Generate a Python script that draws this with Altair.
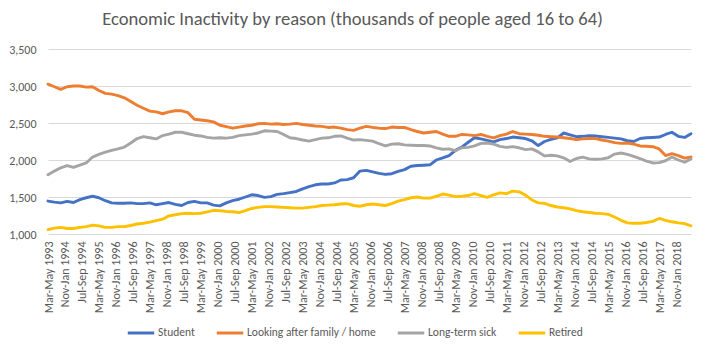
import altair as alt
import pandas as pd

# ---------------- data ----------------
series_names = ["Student", "Looking after family / home", "Long-term sick", "Retired"]
series_colors = ["#4472C4", "#ED7D31", "#A5A5A5", "#FFC000"]

# month index of each sampled rolling quarter (0 = Mar-May 1993, 303 = Jun-Aug 2018), every 3 months
month_index = list(range(0, 304, 3))

student = [1445, 1430, 1420, 1440, 1425, 1465, 1490, 1510, 1490, 1450,
           1420, 1415, 1415, 1420, 1410, 1410, 1420, 1395, 1410, 1425,
           1400, 1385, 1425, 1440, 1420, 1420, 1390, 1380, 1420, 1450,
           1470, 1500, 1530, 1520, 1495, 1505, 1535, 1545, 1560, 1575,
           1610, 1640, 1665, 1675, 1675, 1690, 1730, 1735, 1760, 1850,
           1860, 1840, 1820, 1805, 1815, 1845, 1870, 1915, 1925, 1930,
           1935, 2000, 2030, 2060, 2130, 2175, 2240, 2300, 2285, 2265,
           2245, 2275, 2290, 2310, 2300, 2290, 2260, 2195, 2250, 2280,
           2300, 2365, 2340, 2315, 2320, 2330, 2325, 2315, 2305, 2295,
           2285, 2260, 2250, 2290, 2300, 2305, 2310, 2345, 2375, 2320,
           2305, 2355]

family_home = [3025, 2990, 2955, 2990, 3000, 3000, 2985, 2990, 2940, 2900,
               2890, 2870, 2840, 2790, 2740, 2700, 2660, 2650, 2625, 2650,
               2665, 2665, 2640, 2550, 2540, 2530, 2515, 2470, 2450, 2430,
               2445, 2460, 2470, 2490, 2495, 2485, 2490, 2480, 2485, 2495,
               2480, 2470, 2460, 2455, 2440, 2445, 2430, 2410, 2400, 2430,
               2455, 2440, 2430, 2425, 2445, 2440, 2440, 2410, 2385, 2365,
               2375, 2385, 2350, 2320, 2320, 2345, 2340, 2330, 2345, 2320,
               2300, 2330, 2350, 2385, 2355, 2350, 2345, 2335, 2320, 2315,
               2310, 2300, 2290, 2275, 2285, 2290, 2290, 2270, 2255, 2235,
               2225, 2230, 2215, 2190, 2185, 2180, 2150, 2060, 2085, 2060,
               2025, 2040]

long_term_sick = [1800, 1850, 1895, 1925, 1900, 1930, 1960, 2040, 2075, 2105,
                  2130, 2150, 2175, 2230, 2290, 2315, 2300, 2285, 2330, 2350,
                  2375, 2375, 2355, 2335, 2325, 2305, 2295, 2300, 2295, 2305,
                  2330, 2340, 2350, 2365, 2395, 2390, 2385, 2345, 2300, 2290,
                  2270, 2255, 2275, 2295, 2300, 2320, 2325, 2295, 2270, 2275,
                  2265, 2255, 2220, 2190, 2215, 2220, 2205, 2200, 2195, 2195,
                  2190, 2165, 2145, 2150, 2125, 2165, 2170, 2190, 2225, 2230,
                  2215, 2185, 2170, 2180, 2165, 2140, 2150, 2110, 2055, 2065,
                  2055, 2030, 1980, 2020, 2040, 2015, 2010, 2015, 2030, 2080,
                  2095, 2075, 2050, 2020, 1985, 1960, 1965, 1990, 2040, 2000,
                  1970, 2015]

retired = [1060, 1080, 1090, 1075, 1075, 1090, 1100, 1120, 1110, 1090,
           1090, 1100, 1100, 1115, 1135, 1145, 1160, 1180, 1200, 1245,
           1260, 1275, 1280, 1275, 1280, 1300, 1320, 1315, 1305, 1300,
           1290, 1315, 1345, 1360, 1370, 1370, 1365, 1360, 1355, 1350,
           1350, 1360, 1370, 1385, 1390, 1395, 1405, 1410, 1385, 1375,
           1395, 1405, 1395, 1385, 1410, 1445, 1465, 1490, 1500, 1485,
           1485, 1510, 1540, 1525, 1505, 1510, 1520, 1545, 1520, 1495,
           1530, 1555, 1545, 1580, 1570, 1525, 1460, 1420, 1415, 1385,
           1365, 1355, 1340, 1315, 1300, 1290, 1280, 1275, 1265, 1230,
           1185, 1150, 1145, 1145, 1155, 1170, 1210, 1185, 1165, 1150,
           1140, 1110]

tick_labels = [
    "Mar-May 1993", "Nov-Jan 1994", "Jul-Sep 1994", "Mar-May 1995", "Nov-Jan 1996",
    "Jul-Sep 1996", "Mar-May 1997", "Nov-Jan 1998", "Jul-Sep 1998", "Mar-May 1999",
    "Nov-Jan 2000", "Jul-Sep 2000", "Mar-May 2001", "Nov-Jan 2002", "Jul-Sep 2002",
    "Mar-May 2003", "Nov-Jan 2004", "Jul-Sep 2004", "Mar-May 2005", "Nov-Jan 2006",
    "Jul-Sep 2006", "Mar-May 2007", "Nov-Jan 2008", "Jul-Sep 2008", "Mar-May 2009",
    "Nov-Jan 2010", "Jul-Sep 2010", "Mar-May 2011", "Nov-Jan 2012", "Jul-Sep 2012",
    "Mar-May 2013", "Nov-Jan 2014", "Jul-Sep 2014", "Mar-May 2015", "Nov-Jan 2016",
    "Jul-Sep 2016", "Mar-May 2017", "Nov-Jan 2018",
]
tick_step = 8
y_ticks = [1000, 1500, 2000, 2500, 3000, 3500]
title_text = "Economic Inactivity by reason (thousands of people aged 16 to 64)"

# ---------------- table ----------------
rows = []
for name, vals in zip(series_names, [student, family_home, long_term_sick, retired]):
    for m, v in zip(month_index, vals):
        rows.append({"month": m, "value": v, "series": name})
df = pd.DataFrame(rows)

FONT = "Carlito, Lato, sans-serif"
TXT = "#595959"
GRID = "#D9D9D9"

label_expr = "[" + ",".join("'" + s + "'" for s in tick_labels) + "][round(datum.value / %d)]" % tick_step

chart = alt.Chart(df).mark_line(strokeWidth=2.9, strokeJoin="round", strokeCap="round").encode(
    x=alt.X("month:Q",
            scale=alt.Scale(domain=[0, 303], nice=False, zero=False),
            axis=alt.Axis(values=[i * tick_step for i in range(len(tick_labels))],
                          labelExpr=label_expr, labelAngle=270, labelAlign="right",
                          labelBaseline="middle", ticks=False, domain=False, grid=False,
                          labelPadding=7, labelFont=FONT, labelFontSize=12, labelColor=TXT,
                          labelOverlap=False, title=None)),
    y=alt.Y("value:Q",
            scale=alt.Scale(domain=[1000, 3500], nice=False, zero=False),
            axis=alt.Axis(values=y_ticks, format=",.0f", ticks=False, domain=False,
                          gridColor=GRID, gridWidth=1, labelPadding=12,
                          labelFont=FONT, labelFontSize=12, labelColor=TXT, title=None)),
    color=alt.Color("series:N",
                    scale=alt.Scale(domain=series_names, range=series_colors),
                    legend=alt.Legend(orient="none", legendX=78, legendY=269,
                                      direction="horizontal", title=None,
                                      symbolType="stroke", symbolSize=700,
                                      symbolStrokeWidth=3, columnPadding=15,
                                      labelOffset=2, labelFont=FONT, labelFontSize=11.5,
                                      labelColor=TXT)),
).properties(
    width=643,
    height=185,
    title=alt.TitleParams(title_text, font=FONT, fontSize=18.6, fontWeight="normal",
                          color=TXT, anchor="middle", dx=-17, offset=14),
    autosize=alt.AutoSizeParams(type="none"),
    padding={"left": 40, "top": 41, "right": 8, "bottom": 110},
).configure_view(stroke=None)

chart.save("out.html", embed_options={"renderer": "svg", "actions": False})
